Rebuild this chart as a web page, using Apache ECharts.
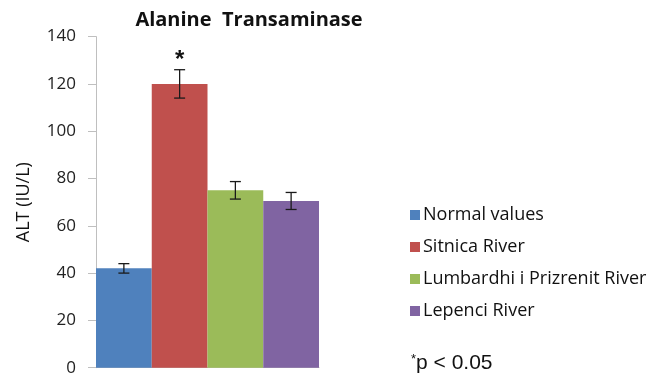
<!DOCTYPE html>
<html>
<head>
<meta charset="utf-8">
<script src="https://cdn.jsdelivr.net/npm/echarts@6/dist/echarts.min.js"></script>
<style>
  html, body { margin: 0; padding: 0; background: #fff; }
  #chart { width: 647px; height: 377px; }
</style>
</head>
<body>
<div id="chart"></div>
<script>
// Mean ALT per group with standard error and significance marks
var groups = ['Normal values', 'Sitnica River', 'Lumbardhi i Prizrenit River', 'Lepenci River'];
var altMeans = [42, 120, 75, 70.5];
var altErrors = [2, 6, 3.7, 3.6];
var significance = ['', '*', '', ''];
var yTicks = { min: 0, max: 140, interval: 20 };
var colors = ['#4F81BD', '#C0504D', '#9BBB59', '#8064A2'];

var chart = echarts.init(document.getElementById('chart'));

// one bar series per group, each occupying its own category slot
var barSeries = groups.map(function (name, i) {
  return {
    name: name,
    type: 'bar',
    barGap: '-100%',
    barCategoryGap: 0,
    itemStyle: { color: colors[i] },
    data: groups.map(function (g, j) { return j === i ? altMeans[i] : '-'; })
  };
});

var errorSeries = {
  type: 'custom',
  name: 'error',
  silent: true,
  z: 10,
  data: groups.map(function (g, i) { return [i, altMeans[i], altErrors[i]]; }),
  renderItem: function (params, api) {
    var idx = api.value(0);
    var mean = api.value(1);
    var err = api.value(2);
    var hi = api.coord([idx, mean + err]);
    var lo = api.coord([idx, mean - err]);
    var half = 5.5;
    var style = { stroke: '#1a1a1a', lineWidth: 1.3 };
    var children = [
      { type: 'line', shape: { x1: hi[0], y1: hi[1], x2: lo[0], y2: lo[1] }, style: style },
      { type: 'line', shape: { x1: hi[0] - half, y1: hi[1], x2: hi[0] + half, y2: hi[1] }, style: style },
      { type: 'line', shape: { x1: lo[0] - half, y1: lo[1], x2: lo[0] + half, y2: lo[1] }, style: style }
    ];
    if (significance[idx]) {
      children.push({
        type: 'text',
        x: hi[0],
        y: hi[1] + 3,
        style: {
          text: significance[idx],
          fill: '#111',
          font: 'bold 24px "Liberation Sans", Arial, sans-serif',
          align: 'center',
          verticalAlign: 'bottom'
        }
      });
    }
    return { type: 'group', children: children };
  }
};

chart.setOption({
  animation: false,
  title: {
    text: 'Alanine  Transaminase',
    left: 244,
    top: 5,
    textAlign: 'center',
    textStyle: { fontFamily: '"Open Sans", sans-serif', fontWeight: 'bold', fontSize: 20, color: '#111' }
  },
  legend: {
    orient: 'vertical',
    left: 405,
    top: 201,
    itemWidth: 10,
    itemHeight: 10,
    itemGap: 14,
    icon: 'rect',
    data: groups,
    textStyle: { fontFamily: '"Open Sans", sans-serif', fontSize: 18, lineHeight: 18, color: '#111', padding: [0, 0, 0, -2] }
  },
  grid: { left: 96, right: 328, top: 36.6, bottom: 9.3 },
  xAxis: {
    type: 'category',
    data: groups,
    axisLine: { show: true, lineStyle: { color: '#BFBFBF', width: 1 } },
    axisTick: { show: false },
    axisLabel: { show: false }
  },
  yAxis: {
    type: 'value',
    min: yTicks.min,
    max: yTicks.max,
    interval: yTicks.interval,
    name: 'ALT (IU/L)',
    nameLocation: 'middle',
    nameGap: 63,
    nameTextStyle: { fontFamily: '"Open Sans", sans-serif', fontSize: 18, color: '#111' },
    axisLine: { show: true, lineStyle: { color: '#BFBFBF', width: 1 } },
    axisTick: { show: true, length: 8, lineStyle: { color: '#BFBFBF' } },
    axisLabel: { margin: 20, fontFamily: '"Open Sans", sans-serif', fontSize: 17, color: '#222' },
    splitLine: { show: false }
  },
  graphic: [{
    type: 'text',
    left: 411,
    top: 353,
    style: {
      rich: {
        s: { fontFamily: '"Liberation Sans", Arial, sans-serif', fontSize: 13, verticalAlign: 'top', fill: '#111', padding: [0, 0, 8, 0] },
        t: { fontFamily: '"Liberation Sans", Arial, sans-serif', fontSize: 21, fill: '#111' }
      },
      text: '{s|*}{t|p < 0.05}'
    }
  }],
  series: barSeries.concat([errorSeries])
});
</script>
</body>
</html>
